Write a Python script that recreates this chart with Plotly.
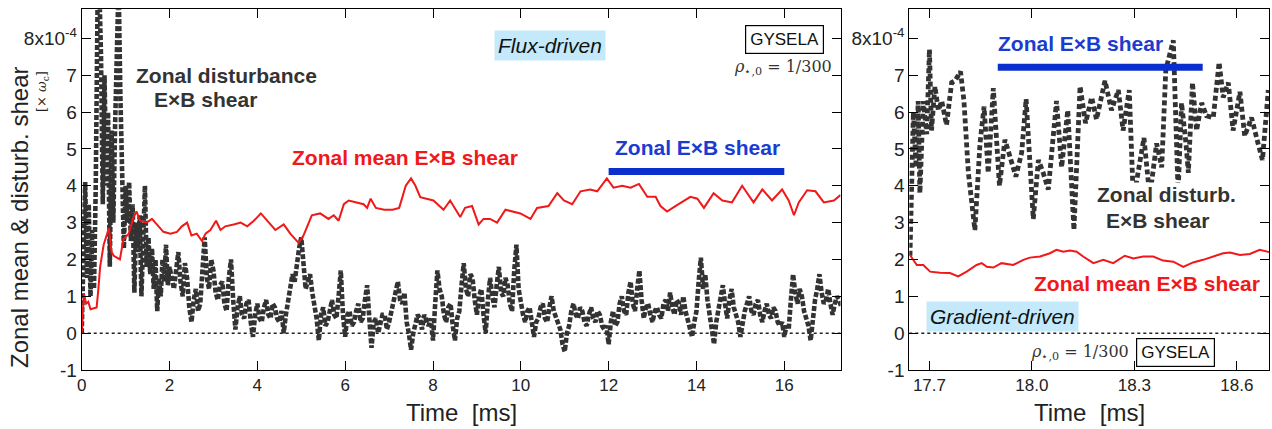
import plotly.graph_objects as go

# ---------------- data ----------------
# Left panel (flux-driven): zonal mean ExB shear, red solid  [x1e-4 omega_c]
mean_L_t = [0, 0.05, 0.1, 0.15, 0.2, 0.34, 0.38, 0.42, 0.5, 0.58, 0.62, 0.68, 0.73, 0.8, 0.87, 0.95,
            1.07, 1.18, 1.25, 1.33, 1.48, 1.6, 1.71, 1.86, 2.02, 2.17, 2.28, 2.4, 2.5, 2.62, 2.74, 2.82,
            2.93, 3.06, 3.16, 3.27, 3.46, 3.62, 3.77, 3.92, 4.08, 4.22, 4.41, 4.6, 4.75, 4.94, 5.05, 5.24,
            5.43, 5.62, 5.74, 5.85, 5.97, 6.08, 6.27, 6.42, 6.5, 6.58, 6.7, 6.89, 7.08, 7.23, 7.38, 7.5,
            7.6, 7.71, 8.01, 8.24, 8.39, 8.62, 8.73, 8.89, 9.04, 9.15, 9.3, 9.46, 9.65, 9.84, 9.99, 10.22,
            10.37, 10.63, 10.83, 10.98, 11.17, 11.36, 11.58, 11.74, 11.96, 12.11, 12.31, 12.5, 12.69,
            12.88, 13.07, 13.18, 13.33, 13.52, 13.71, 13.86, 14.02, 14.17, 14.39, 14.59, 14.81, 15.04,
            15.3, 15.5, 15.72, 15.95, 16.1, 16.22, 16.33, 16.52, 16.71, 16.9, 17.13, 17.28]
mean_L_v = [0, 1.08, 0.8, 0.85, 0.65, 0.7, 1.2, 1.8, 2.4, 2.7, 2.85, 2.2, 2.1, 2.05, 2.0, 2.55,
            2.7, 3.15, 3.3, 3.05, 3.0, 3.1, 2.95, 2.75, 2.7, 2.75, 2.9, 3.0, 2.65, 2.7, 2.5, 2.7,
            2.8, 3.05, 2.8, 2.9, 2.95, 3.0, 2.9, 3.05, 3.25, 3.05, 2.8, 2.95, 2.7, 2.45, 2.65, 3.2,
            3.25, 3.1, 3.2, 3.05, 3.5, 3.6, 3.55, 3.5, 3.4, 3.65, 3.4, 3.35, 3.35, 3.4, 4.0, 4.2,
            4.0, 3.69, 3.6, 3.35, 3.6, 3.15, 3.4, 3.45, 2.95, 3.1, 3.1, 3.0, 3.35, 3.3, 3.25, 3.1,
            3.4, 3.45, 3.8, 3.6, 3.5, 3.85, 3.9, 3.85, 4.2, 3.95, 4.0, 3.95, 4.05,
            3.7, 3.7, 3.45, 3.3, 3.45, 3.6, 3.7, 3.65, 3.4, 3.8, 3.6, 3.55, 4.0,
            3.55, 3.9, 3.6, 3.9, 3.6, 3.2, 3.55, 3.88, 3.85, 3.55, 3.6, 3.75]

# Left panel: zonal disturbance ExB shear, black dashed
# early phase sampled every 0.04 ms from 0 ms
dist_L_fine_start = 0.0
dist_L_fine_step = 0.04
dist_L_fine_v = [0.0, 2.5, 4.1, 1.5, 3.5, 1.0, 2.8, 1.2, 4.0, 8.8,
                 9.5, 7.5, 3.5, 7.0, 4.0, 6.0, 1.8, 5.5, 3.0, 5.6,
                 8.0, 9.5, 6.5, 4.5, 2.3, 4.0, 3.0, 4.1, 2.5, 3.5,
                 1.1, 3.0, 2.2, 3.2, 1.0, 2.5, 4.0, 1.8, 2.6, 1.6,
                 2.3, 1.2, 2.0, 0.6, 1.5, 1.0, 2.0, 1.4, 2.4, 1.3,
                 1.8]
# later phase: samples every 0.1 ms from 2.1 ms ...
dist_L_coarse_start = 2.1
dist_L_coarse_step = 0.1
dist_L_coarse_v = [1.2, 2.2, 1.0, 1.5, 0.3, 1.2, 0.8, 2.6, 1.2, 1.7,
                   0.9, 1.4, 0.6, 2.0, 0.1, 1.0, 0.4, 0.9, -0.1, 0.8,
                   0.3, 0.9, 0.4, 0.7, 0.3, 0.0, 0.9, 1.6, 2.0, 2.6,
                   1.2, 1.6, 0.8, -0.2, 0.7, 0.3, 0.9, 0.4, 1.7, -0.1,
                   0.6, 0.3, 0.8, 0.4, 1.3, -0.4, 0.4, 0.2, 0.5, 0.3,
                   0.9, 1.4, 0.8, 0.3, -0.45, 0.2, 0.4, 0.5, 0.2, -0.2,
                   1.7, 1.0, 0.3, 0.8, -0.2, 0.6, 1.9, 1.0, 1.5, 0.5,
                   1.2, 0.0, 1.5, 0.7, 1.8, 1.0, 1.3, 0.6, 2.4, 0.8,
                   0.3, 0.7, -0.1, 0.4, 0.8, 0.3, 1.0, 0.4, 0.1, -0.5,
                   0.2, 0.8, 0.4, 0.6, 0.2, 0.7, 0.3, 0.5, 0.1, -0.3,
                   0.6, 0.3, 1.0, 0.5, 1.4, 0.6, 1.7, 0.4, 0.8, 0.3,
                   0.7, 0.4, 0.9, 1.1, 0.5, 0.8, 1.0, 0.4, -0.1, 0.6,
                   2.05, 1.6, 0.5, -0.3, 0.6, 1.3, 0.4, 1.2, 0.5, -0.1,
                   0.6, 1.0, 0.5, 0.9, 0.3, 0.8, 0.4, 0.6, 0.2, -0.1,
                   0.1, 1.6, 0.8, 1.0, 0.4, -0.2, 0.9, 1.6, 0.8, 1.2,
                   0.5, 1.0, 0.7]
# ... and the band's opposite edge, read half-way between them (from 2.15 ms)
dist_L_mid_start = 2.15
dist_L_mid_step = 0.1
dist_L_mid_v = [1.8, 1.4, 1.9, 0.7, 0.9, 0.6, 1.7, 1.5, 2.0, 1.1,
                1.3, 0.8, 1.5, 0.9, 0.7, 0.5, 0.8, 0.3, 0.5, 0.4,
                0.7, 0.5, 0.8, 0.4, 0.6, 0.5, 1.1, 1.4, 2.3, 1.9,
                1.4, 1.1, 0.4, 0.5, 0.2, 0.7, 0.5, 1.0, 0.5, 0.5,
                0.2, 0.6, 0.3, 0.9, 0.4, 0.3, 0.0, 0.5, 0.1, 0.6,
                1.2, 0.9, 1.1, 0.0, 0.0, 0.5, 0.1, 0.3, 0.4, 0.8,
                1.2, 0.5, 0.7, 0.2, 0.4, 1.3, 1.2, 1.6, 0.9, 1.0,
                0.5, 0.9, 1.0, 1.3, 1.1, 1.5, 0.8, 1.7, 1.2, 0.5,
                0.6, 0.2, 0.3, 0.7, 0.4, 0.7, 0.6, 0.2, -0.3, 0.0,
                0.6, 0.5, 0.7, 0.3, 0.5, 0.4, 0.6, 0.2, 0.2, 0.3,
                0.2, 0.8, 0.6, 1.1, 0.8, 1.2, 0.9, 0.7, 0.5, 0.6,
                0.5, 0.8, 0.6, 0.7, 0.9, 0.5, 0.6, 0.2, 0.3, 1.4,
                1.2, 0.9, 0.2, 0.3, 0.9, 0.8, 0.9, 0.7, 0.3, 0.3,
                0.8, 0.6, 0.8, 0.5, 0.6, 0.5, 0.7, 0.3, 0.3, 0.2,
                0.9, 1.1, 1.2, 0.6, 0.2, 0.4, 1.2, 1.1, 0.9, 0.8,
                0.8, 0.9]

# Right panel (gradient-driven): zonal mean ExB shear, red solid
mean_R_t = [17.643, 17.663, 17.682, 17.702, 17.731, 17.760, 17.784, 17.809, 17.838, 17.853,
            17.868, 17.887, 17.911, 17.945, 17.975, 17.994, 18.024, 18.053, 18.072, 18.092,
            18.111, 18.131, 18.150, 18.180, 18.209, 18.238, 18.272, 18.297, 18.326, 18.355,
            18.384, 18.414, 18.443, 18.472, 18.501, 18.531, 18.560, 18.580, 18.609, 18.638,
            18.667, 18.695]
mean_R_v = [2.12, 1.85, 1.85, 1.67, 1.64, 1.63, 1.54, 1.67, 1.85, 1.9,
            1.8, 1.78, 1.9, 1.85, 1.99, 2.05, 2.08, 2.17, 2.26, 2.21,
            2.24, 2.21, 2.08, 1.9, 1.99, 1.9, 2.1, 2.03, 2.08, 2.08,
            1.97, 1.94, 1.8, 1.92, 1.99, 2.08, 2.17, 2.19, 2.12, 2.15,
            2.26, 2.2]

# Right panel: zonal disturbance ExB shear, black dashed
dist_R_t = [17.643, 17.648, 17.653, 17.661, 17.667, 17.672, 17.682, 17.692, 17.700, 17.706,
            17.716, 17.726, 17.736, 17.750, 17.765, 17.775, 17.791, 17.801, 17.814, 17.833,
            17.848, 17.860, 17.872, 17.887, 17.905, 17.921, 17.936, 17.953, 17.970, 17.983,
            18.004, 18.019, 18.033, 18.048, 18.072, 18.087, 18.105, 18.123, 18.141, 18.157,
            18.175, 18.189, 18.214, 18.233, 18.253, 18.267, 18.285, 18.297, 18.328, 18.345,
            18.365, 18.380, 18.392, 18.414, 18.428, 18.438, 18.451, 18.458, 18.470, 18.482,
            18.497, 18.511, 18.531, 18.548, 18.560, 18.575, 18.589, 18.609, 18.623, 18.643,
            18.662, 18.675, 18.692]
dist_R_v = [2.1, 4.0, 6.0, 4.5, 6.3, 3.8, 6.3, 5.4, 7.7, 5.5,
            6.7, 6.05, 6.3, 5.65, 6.8, 6.85, 7.1, 6.3, 4.35, 2.8,
            5.15, 6.15, 4.35, 6.65, 4.0, 5.25, 4.8, 4.25, 4.9, 6.35,
            3.1, 4.7, 4.35, 3.9, 6.3, 4.5, 6.05, 2.8, 6.7, 5.7,
            6.4, 5.8, 6.85, 6.05, 6.6, 5.5, 6.6, 3.6, 5.3, 3.7,
            5.15, 4.5, 7.15, 7.95, 3.8, 6.25, 5.15, 4.35, 6.8, 5.5,
            6.25, 5.9, 5.85, 7.35, 6.4, 6.8, 5.5, 6.55, 5.35, 5.85,
            5.15, 4.7, 6.6]

# "Zonal ExB shear" level bars
bar_L_t = [12.0, 16.0]
bar_L_v = [4.39, 4.39]
bar_R_t = [17.90, 18.50]
bar_R_v = [7.22, 7.22]

# axes
y_range = [-1, 8.79]
y_tickvals = [-1, 0, 1, 2, 3, 4, 5, 6, 7, 8]
y_ticktext = ['-1', '0', '1', '2', '3', '4', '5', '6', '7', '8x10<sup>-4</sup>']
xL_range = [0, 17.28]
xL_tickvals = [0, 2, 4, 6, 8, 10, 12, 14, 16]
xR_range = [17.641, 18.695]
xR_tickvals = [17.7, 18.0, 18.3, 18.6]
xR_ticktext = ['17.7', '18.0', '18.3', '18.6']

# ---------------- build ----------------
fine_pts = [(round(dist_L_fine_start + i * dist_L_fine_step, 3), v) for i, v in enumerate(dist_L_fine_v)]
late_pts = ([(round(dist_L_coarse_start + i * dist_L_coarse_step, 3), v) for i, v in enumerate(dist_L_coarse_v)] +
            [(round(dist_L_mid_start + i * dist_L_mid_step, 3), v) for i, v in enumerate(dist_L_mid_v)])
late_pts.sort(key=lambda p: p[0])
dist_L_t = [p[0] for p in fine_pts + late_pts]
dist_L_v = [p[1] for p in fine_pts + late_pts]

RED = '#f01818'
DARK = '#333333'
BLUE = '#0b2fcc'
BLUE_TXT = '#1a3cd0'
LBLUE = '#c4e9fa'
FONT = 'Liberation Sans, Arial, sans-serif'
SERIF = 'DejaVu Serif, Liberation Serif, serif'

W, H = 1272, 429
def px(x):
    return x / W
def py(y):
    return 1 - y / H

fig = go.Figure()
dash_L = dict(color=DARK, width=4.6, dash='5px,2px')
dash_R = dict(color=DARK, width=4.8, dash='5px,3px')
fig.add_trace(go.Scatter(x=dist_L_t, y=dist_L_v, mode='lines', line=dash_L,
                         xaxis='x', yaxis='y', showlegend=False))
fig.add_trace(go.Scatter(x=mean_L_t, y=mean_L_v, mode='lines', line=dict(color=RED, width=2),
                         xaxis='x', yaxis='y', showlegend=False))
fig.add_trace(go.Scatter(x=bar_L_t, y=bar_L_v, mode='lines', line=dict(color=BLUE, width=7),
                         xaxis='x', yaxis='y', showlegend=False))
fig.add_trace(go.Scatter(x=dist_R_t, y=dist_R_v, mode='lines', line=dash_R,
                         xaxis='x2', yaxis='y2', showlegend=False))
fig.add_trace(go.Scatter(x=mean_R_t, y=mean_R_v, mode='lines', line=dict(color=RED, width=2),
                         xaxis='x2', yaxis='y2', showlegend=False))
fig.add_trace(go.Scatter(x=bar_R_t, y=bar_R_v, mode='lines', line=dict(color=BLUE, width=7),
                         xaxis='x2', yaxis='y2', showlegend=False))

ydom = [py(370), py(9.3)]
axis_common = dict(showline=True, linecolor='black', linewidth=1, mirror='ticks',
                   ticks='inside', ticklen=9, tickwidth=1, tickcolor='black',
                   showgrid=False, zeroline=False, automargin=False)
xtick_font = dict(family=FONT, size=17, color='#222')
ytick_font = dict(family=FONT, size=19, color='#222')
fig.update_layout(
    width=W, height=H, margin=dict(l=0, r=0, t=0, b=0),
    paper_bgcolor='white', plot_bgcolor='white',
    font=dict(family=FONT, color='#222'),
    xaxis=dict(domain=[px(81.7), px(840.5)], range=xL_range, tickvals=xL_tickvals,
               anchor='y', tickfont=xtick_font, **axis_common),
    yaxis=dict(domain=ydom, range=y_range, tickvals=y_tickvals, ticktext=y_ticktext,
               anchor='x', tickfont=ytick_font, **axis_common),
    xaxis2=dict(domain=[px(909.3), px(1269.3)], range=xR_range, tickvals=xR_tickvals,
                ticktext=xR_ticktext, anchor='y2', tickfont=xtick_font, **axis_common),
    yaxis2=dict(domain=ydom, range=y_range, tickvals=y_tickvals, ticktext=y_ticktext,
                anchor='x2', tickfont=ytick_font, **axis_common),
)

# zero reference lines
for xr, yr in (('x domain', 'y'), ('x2 domain', 'y2')):
    fig.add_shape(type='line', xref=xr, yref=yr, x0=0, x1=1, y0=0, y1=0,
                  line=dict(color='#222', width=1.5, dash='dot'), layer='below')

def ann(text, x, y, xref, yref, size=21, color=DARK, bold=True, italic=False, family=FONT, **kw):
    t = text
    if bold:
        t = '<b>' + t + '</b>'
    if italic:
        t = '<i>' + t + '</i>'
    fig.add_annotation(text=t, x=x, y=y, xref=xref, yref=yref, showarrow=False,
                       xanchor=kw.pop('xanchor', 'center'), yanchor=kw.pop('yanchor', 'middle'),
                       font=dict(family=family, size=size, color=color), **kw)

# left panel texts (data coordinates)
ann('Zonal disturbance', 3.29, 7.0, 'x', 'y')
ann('E×B shear', 2.81, 6.33, 'x', 'y')
ann('Zonal mean E×B shear', 7.37, 4.76, 'x', 'y', color=RED)
ann('Zonal E×B shear', 14.02, 5.03, 'x', 'y', color=BLUE_TXT)
ann('Flux-driven', 10.67, 7.82, 'x', 'y', bold=False, italic=True, color='#111',
    bgcolor=LBLUE, borderpad=3)
ann('GYSELA', 16.0, 7.98, 'x', 'y', size=17, bold=False, color='#111',
    bordercolor='black', borderwidth=1.2, borderpad=4, bgcolor='white')
ann('<i>ρ</i><sub>⋆,0</sub> = 1/300', 15.98, 7.2, 'x', 'y', size=16, bold=False,
    color='#333', family=SERIF)

# right panel texts
ann('Zonal E×B shear', 18.141, 7.87, 'x2', 'y2', color=BLUE_TXT)
ann('Zonal disturb.', 18.395, 3.75, 'x2', 'y2', bgcolor='white', borderpad=0)
ann('E×B shear', 18.369, 3.07, 'x2', 'y2')
ann('Zonal mean E×B shear', 18.337, 1.36, 'x2', 'y2', color=RED)
ann('Gradient-driven', 17.915, 0.44, 'x2', 'y2', bold=False, italic=True, color='#111',
    bgcolor=LBLUE, borderpad=3)
ann('<i>ρ</i><sub>⋆,0</sub> = 1/300', 18.14, -0.53, 'x2', 'y2', size=16, bold=False,
    color='#333', family=SERIF)
ann('GYSELA', 18.419, -0.53, 'x2', 'y2', size=17, bold=False, color='#111',
    bordercolor='black', borderwidth=1.2, borderpad=4, bgcolor='white')

# axis titles
ann('Zonal mean &amp; disturb. shear', px(19), py(217), 'paper', 'paper', size=24, bold=False,
    color='#222', textangle=-90)
ann('[× <i>ω</i><sub>c</sub>]', px(42), py(92), 'paper', 'paper', size=13, bold=False,
    color='#222', family=SERIF, textangle=-90)
ann('Time  [ms]', px(461), py(412), 'paper', 'paper', size=24, bold=False, color='#222')
ann('Time  [ms]', px(1089), py(412), 'paper', 'paper', size=24, bold=False, color='#222')

fig.write_html('out.html')
